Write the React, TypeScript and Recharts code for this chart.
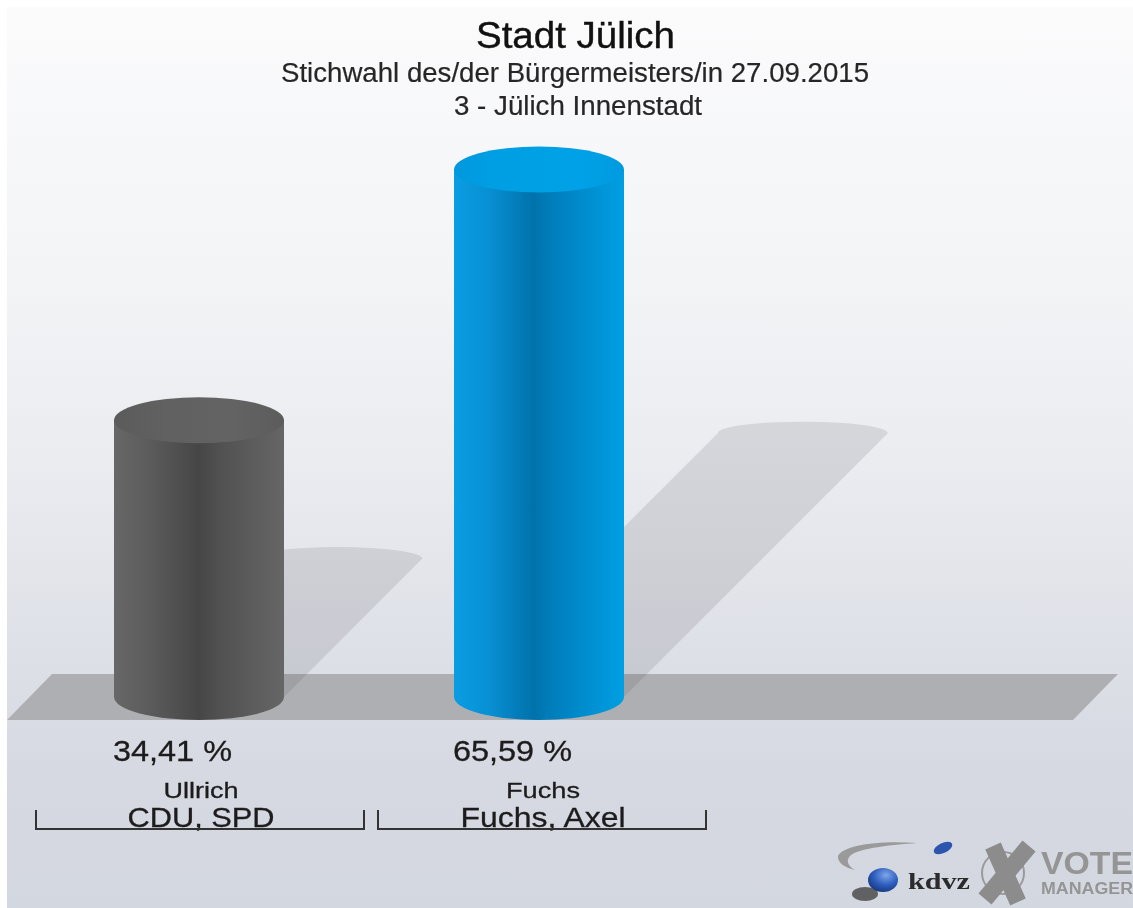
import { Bar, BarChart, Cell, Customized, XAxis, YAxis } from "recharts";

const candidates = ["Ullrich", "Fuchs"];
const parties = ["CDU, SPD", "Fuchs, Axel"];
const shares = [34.41, 65.59];
const gradients = ["url(#sideGray)", "url(#sideBlue)"];
const caps = ["url(#capGray)", "url(#capBlue)"];

const data = candidates.map((name, i) => ({ name, party: parties[i], share: shares[i], side: gradients[i], cap: caps[i] }));

const font = "'Liberation Sans', Arial, sans-serif";
const ink = "#1c1c1c";
const RY = 23;

function Backdrop() {
  return (
    <g>
      <defs>
        <linearGradient id="page" x1="0" y1="0" x2="0" y2="1">
          <stop offset="0" stopColor="#fbfbfc" />
          <stop offset="0.3" stopColor="#f3f4f6" />
          <stop offset="0.5" stopColor="#eaecf0" />
          <stop offset="0.7" stopColor="#dfe1e8" />
          <stop offset="0.85" stopColor="#d6d9e2" />
          <stop offset="1" stopColor="#d3d7df" />
        </linearGradient>
        <linearGradient id="sideBlue" x1="0" y1="0" x2="1" y2="0">
          <stop offset="0" stopColor="#0a9de2" />
          <stop offset="0.2" stopColor="#0890d4" />
          <stop offset="0.47" stopColor="#0072ab" />
          <stop offset="0.55" stopColor="#007cb8" />
          <stop offset="0.72" stopColor="#0089ca" />
          <stop offset="1" stopColor="#009fe3" />
        </linearGradient>
        <linearGradient id="capBlue" x1="0" y1="0" x2="1" y2="0">
          <stop offset="0" stopColor="#0098de" />
          <stop offset="0.25" stopColor="#009fe4" />
          <stop offset="0.75" stopColor="#00a1e6" />
          <stop offset="1" stopColor="#009ae0" />
        </linearGradient>
        <linearGradient id="sideGray" x1="0" y1="0" x2="1" y2="0">
          <stop offset="0" stopColor="#676767" />
          <stop offset="0.2" stopColor="#5c5c5c" />
          <stop offset="0.5" stopColor="#464646" />
          <stop offset="0.62" stopColor="#515151" />
          <stop offset="1" stopColor="#666666" />
        </linearGradient>
        <linearGradient id="capGray" x1="0" y1="0" x2="1" y2="0">
          <stop offset="0" stopColor="#5b5b5b" />
          <stop offset="0.3" stopColor="#616161" />
          <stop offset="0.7" stopColor="#636363" />
          <stop offset="1" stopColor="#5c5c5c" />
        </linearGradient>
        <radialGradient id="ball" cx="0.6" cy="0.3" r="0.8">
          <stop offset="0" stopColor="#7fa6e8" />
          <stop offset="0.5" stopColor="#2f5fc0" />
          <stop offset="1" stopColor="#12306f" />
        </radialGradient>
      </defs>
      <rect x={7} y={7} width={1126} height={901} fill="url(#page)" />
      <polygon points="52,674 1118,674 1073,720 7,720" fill="#aeafb2" />
    </g>
  );
}

function Titles() {
  return (
    <g fontFamily={font} textAnchor="middle">
      <text x={575.5} y={48} fontSize={36} fill="#111" stroke="#111" strokeWidth={0.4} textLength={199} lengthAdjust="spacingAndGlyphs">Stadt Jülich</text>
      <text x={575} y={82} fontSize={27} fill="#262626" stroke="#262626" strokeWidth={0.2} textLength={588} lengthAdjust="spacingAndGlyphs">Stichwahl des/der Bürgermeisters/in 27.09.2015</text>
      <text x={578} y={115} fontSize={27} fill="#262626" stroke="#262626" strokeWidth={0.2} textLength={248} lengthAdjust="spacingAndGlyphs">3 - Jülich Innenstadt</text>
    </g>
  );
}

function Logos() {
  return (
    <g fontFamily={font}>
      <path d="M917 843 C880 840 843 845 838 856 C837 863 846 868 855 870 C848 866 845 860 851 855 C861 848 890 845 917 843 Z" fill="#9a9a9a" />
      <ellipse cx={943} cy={848} rx={10} ry={5} fill="#2c55ad" transform="rotate(-25 943 848)" />
      <ellipse cx={865} cy={894} rx={13} ry={7} fill="#444" opacity={0.8} />
      <ellipse cx={883} cy={880} rx={15} ry={12} fill="url(#ball)" />
      <text x={908} y={889} fontFamily="'Liberation Serif', serif" fontWeight="bold" fontSize={24} textLength={62} lengthAdjust="spacingAndGlyphs" fill="#2b2b2b">kdvz</text>
      <circle cx={1003} cy={873} r={21} fill="none" stroke="#9a9a9a" strokeWidth={2} />
      <line x1={993} y1={846} x2={1018} y2={902} stroke="#8c8c8c" strokeWidth={17} />
      <line x1={1029} y1={846} x2={985} y2={899} stroke="#8c8c8c" strokeWidth={17} />
      <text x={1041} y={874} fontWeight="bold" fontSize={31} textLength={92} lengthAdjust="spacingAndGlyphs" fill="#959595">VOTE</text>
      <text x={1041} y={894} fontWeight="bold" fontSize={16} textLength={92} lengthAdjust="spacingAndGlyphs" fill="#959595">MANAGER</text>
    </g>
  );
}

function Cylinder({ x, y, width, height, payload }: any) {
  const rx = width / 2;
  const base = y + height;
  const lean = height / 2;
  const topY = base - lean;
  return (
    <g>
      <path
        d={`M${x} ${base} L${x + lean} ${topY} A${rx} ${RY / 2} 0 0 1 ${x + lean + width} ${topY} L${x + width} ${base} Z`}
        fill="#3a3c48"
        fillOpacity={0.13}
      />
      <path
        d={`M${x} ${y} L${x} ${base} A${rx} ${RY} 0 0 0 ${x + width} ${base} L${x + width} ${y} Z`}
        fill={payload.side}
      />
      <ellipse cx={x + rx} cy={y} rx={rx} ry={RY} fill={payload.cap} />
    </g>
  );
}

function AxisTick({ x, y, index }: any) {
  const row = data[index];
  const mid = x + (index === 0 ? 1 : 3);
  const left = mid - 164;
  const right = mid + 164;
  const nameW = index === 0 ? 75 : 74;
  const partyW = index === 0 ? 147 : 165;
  return (
    <g fontFamily={font} fill={ink} stroke={ink} strokeWidth={0.3} textAnchor="middle">
      <text x={x - 86} y={y + 64} fontSize={30} textAnchor="start" textLength={119} lengthAdjust="spacingAndGlyphs">{row.share.toFixed(2).replace(".", ",")} %</text>
      <text x={mid + 1} y={y + 101} fontSize={22} textLength={nameW} lengthAdjust="spacingAndGlyphs">{row.name}</text>
      <text x={mid + 1} y={y + 130} fontSize={28} textLength={partyW} lengthAdjust="spacingAndGlyphs">{row.party}</text>
      <path d={`M${left} ${y + 113} V${y + 132} H${right} V${y + 113}`} fill="none" stroke="#333" strokeWidth={2} />
    </g>
  );
}

export default function App() {
  return (
    <div style={{ position: "absolute", left: 0, top: 0, width: 1133, height: 908, background: "#fff", filter: "blur(0.5px)" }}>
      <BarChart width={1133} height={908} data={data} margin={{ top: 134, right: 424, bottom: 0, left: 29 }} barCategoryGap={0}>
        <Customized component={Backdrop} />
        <Customized component={Titles} />
        <Customized component={Logos} />
        <XAxis dataKey="name" height={211} interval={0} axisLine={false} tickLine={false} tickSize={0} tickMargin={0} tick={<AxisTick />} />
        <YAxis hide domain={[0, 70]} />
        <Bar dataKey="share" barSize={170} shape={<Cylinder />} isAnimationActive={false}>
          {data.map((d) => (
            <Cell key={d.name} fill={d.side} />
          ))}
        </Bar>
      </BarChart>
    </div>
  );
}
